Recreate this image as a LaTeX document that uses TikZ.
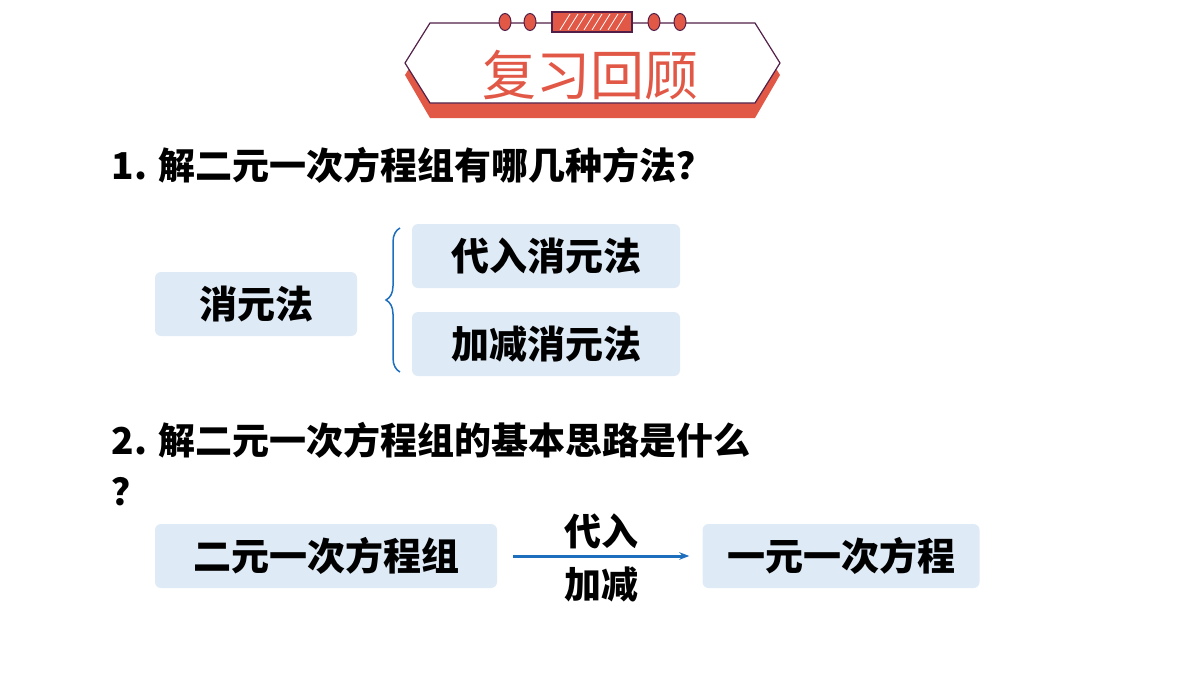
\documentclass[tikz,border=0pt]{standalone}
\usepackage{fontspec}
\newfontfamily\cjk{Noto Sans CJK SC}
\usetikzlibrary{positioning,decorations.pathreplacing,shapes.geometric,arrows.meta}
\definecolor{titlered}{RGB}{226,88,70}
\definecolor{boxblue}{RGB}{222,234,245}
\definecolor{linkblue}{RGB}{30,110,190}
\definecolor{edge}{RGB}{80,30,70}
\tikzset{
  item/.style={fill=boxblue, rounded corners=6pt, inner sep=0pt, font=\cjk\bfseries\fontsize{38}{38}\selectfont},
  ask/.style={anchor=west, font=\cjk\bfseries\fontsize{37}{37}\selectfont},
  dot/.style={ellipse, draw=edge, fill=titlered, minimum width=12pt, minimum height=17pt, inner sep=0pt, line width=1pt}
}
\begin{document}
\begin{tikzpicture}[x=1pt,y=-1pt]
  \useasboundingbox (0,0) rectangle (1200,675);
  % title banner
  \fill[titlered] (405,75) -- (430,35) -- (755,35) -- (780,75) -- (755,118) -- (430,118) -- cycle;
  \draw[edge, line width=1.2pt, fill=white] (405,63) -- (430,23) -- (755,23) -- (780,63) -- (755,103) -- (430,103) -- cycle;
  \draw[edge, line width=1.5pt, fill=titlered] (552,12) rectangle (632,32);
  \foreach \k in {0,...,7}
    \draw[white, line width=0.8pt] ({560+\k*8},30) -- ({570+\k*8},14);
  \foreach \x in {505,530,654,680}
    \node[dot] (d\x) at (\x,22) {};
  \node[text=titlered, font=\cjk\fontsize{54}{54}\selectfont] (title) at (590,75) {复习回顾};
  % question 1
  \node[ask] (q1) at (108,165) {1. 解二元一次方程组有哪几种方法？};
  \node[item, minimum width=202pt, minimum height=64pt] (elim) at (256,304) {消元法};
  \node[item, minimum width=268pt, minimum height=64pt] (subs) at (546,256) {代入消元法};
  \node[item, minimum width=268pt, minimum height=64pt] (addm) at (546,344) {加减消元法};
  \draw[linkblue, line width=1.5pt, decorate, decoration={brace, amplitude=14pt}]
    (400,372) -- (400,228);
  % question 2
  \node[ask] (q2) at (108,440) {2. 解二元一次方程组的基本思路是什么};
  \node[ask] (q2b) at (108,492) {？};
  \node[item, minimum width=342pt, minimum height=64pt] (sys) at (326,556) {二元一次方程组};
  \node[item, minimum width=277pt, minimum height=64pt] (one) at (841,556) {一元一次方程};
  \draw[linkblue, line width=3pt, -{Stealth[length=10pt]}] ([xshift=16pt]sys.east) -- ([xshift=-13pt]one.west)
    node[midway, above=2pt, text=black, font=\cjk\bfseries\fontsize{37}{37}\selectfont] (via1) {代入}
    node[midway, below=6pt, text=black, font=\cjk\bfseries\fontsize{37}{37}\selectfont] (via2) {加减};
\end{tikzpicture}
\end{document}
